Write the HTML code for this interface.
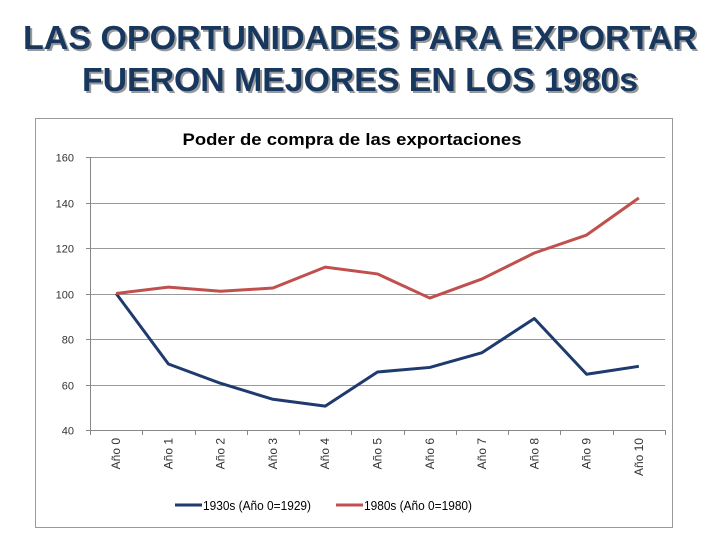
<!DOCTYPE html>
<html><head><meta charset="utf-8"><style>
body{margin:0;background:#fff;}
svg{display:block;font-family:"Liberation Sans",sans-serif;}
</style></head><body>
<svg width="720" height="540">
<g font-weight="bold" font-size="33">
<text x="362" y="51" text-anchor="middle" fill="#999" textLength="674" lengthAdjust="spacingAndGlyphs">LAS OPORTUNIDADES PARA EXPORTAR</text>
<text x="360" y="49" text-anchor="middle" fill="#17375e" textLength="674" lengthAdjust="spacingAndGlyphs">LAS OPORTUNIDADES PARA EXPORTAR</text>
<text x="362" y="93" text-anchor="middle" fill="#999" textLength="556" lengthAdjust="spacingAndGlyphs">FUERON MEJORES EN LOS 1980s</text>
<text x="360" y="91" text-anchor="middle" fill="#17375e" textLength="556" lengthAdjust="spacingAndGlyphs">FUERON MEJORES EN LOS 1980s</text>
</g>
<rect x="35.5" y="118.5" width="637" height="409" fill="#fff" stroke="#999"/>
<text x="352" y="145" text-anchor="middle" font-size="17" font-weight="bold" fill="#000" textLength="339" lengthAdjust="spacingAndGlyphs">Poder de compra de las exportaciones</text>
<g id="grid"></g><g id="axes"></g><g id="series"></g>
<g font-size="13" fill="#000">
<g><line x1="175" y1="505" x2="202" y2="505" stroke="#1f3a6e" stroke-width="3"/><text x="203" y="510" textLength="108" lengthAdjust="spacingAndGlyphs">1930s (Año 0=1929)</text></g>
<g><line x1="336" y1="505" x2="363" y2="505" stroke="#c0504d" stroke-width="3"/><text x="364" y="510" textLength="108" lengthAdjust="spacingAndGlyphs">1980s (Año 0=1980)</text></g>
</g>
</svg>
<script>
const categories=["Año 0","Año 1","Año 2","Año 3","Año 4","Año 5","Año 6","Año 7","Año 8","Año 9","Año 10"];
const s1930=[100,69,60.5,53.5,50.5,65.5,67.5,74,89,64.5,68];
const s1980=[100,102.8,101,102.4,111.6,108.6,98,106.4,117.8,125.7,142];
const yTicks=[40,60,80,100,120,140,160];
const NS="http://www.w3.org/2000/svg";
const L=90,R=665,T=157,B=430;
const step=(R-L)/categories.length;
const xp=i=>L+step*(i+0.5);
const yp=v=>B-(v-40)/120*(B-T);
function mk(tag,attrs,parent){const e=document.createElementNS(NS,tag);for(const k in attrs)e.setAttribute(k,attrs[k]);parent.appendChild(e);return e;}
const grid=document.getElementById('grid'),axes=document.getElementById('axes'),series=document.getElementById('series');
yTicks.forEach(t=>{const y=Math.round(yp(t))+0.5;
 if(t>40){const g=mk('line',{x1:L,x2:R,y1:y,y2:y,stroke:'#999','stroke-width':1},grid);
 
 }
 mk('line',{x1:L-4,x2:L,y1:y,y2:y,stroke:'#888'},axes);
 const tx=mk('text',{x:L-16,y:y+4,'text-anchor':'end','font-size':11,fill:'#333'},axes);tx.textContent=t;
 
 
});
mk('line',{x1:L+0.5,x2:L+0.5,y1:T,y2:B,stroke:'#888'},axes);
mk('line',{x1:L,x2:R,y1:B+0.5,y2:B+0.5,stroke:'#888'},axes);
for(let i=0;i<=categories.length;i++){const x=Math.round(L+step*i)+0.5;mk('line',{x1:x,x2:x,y1:B,y2:B+5,stroke:'#888'},axes);}
categories.forEach((c,i)=>{const x=xp(i)+4;const t=mk('text',{transform:`translate(${x},${B+8}) rotate(-90)`,'text-anchor':'end','font-size':12,fill:'#333'},axes);t.textContent=c;
 
 });
function line(vals,color,name){const p=mk('polyline',{points:vals.map((v,i)=>xp(i)+','+yp(v)).join(' '),fill:'none',stroke:color,'stroke-width':3,'stroke-linejoin':'round'},series);
 
 }
line(s1930,'#1f3a6e','line-1930s');
line(s1980,'#c0504d','line-1980s');
</script>
</body></html>
